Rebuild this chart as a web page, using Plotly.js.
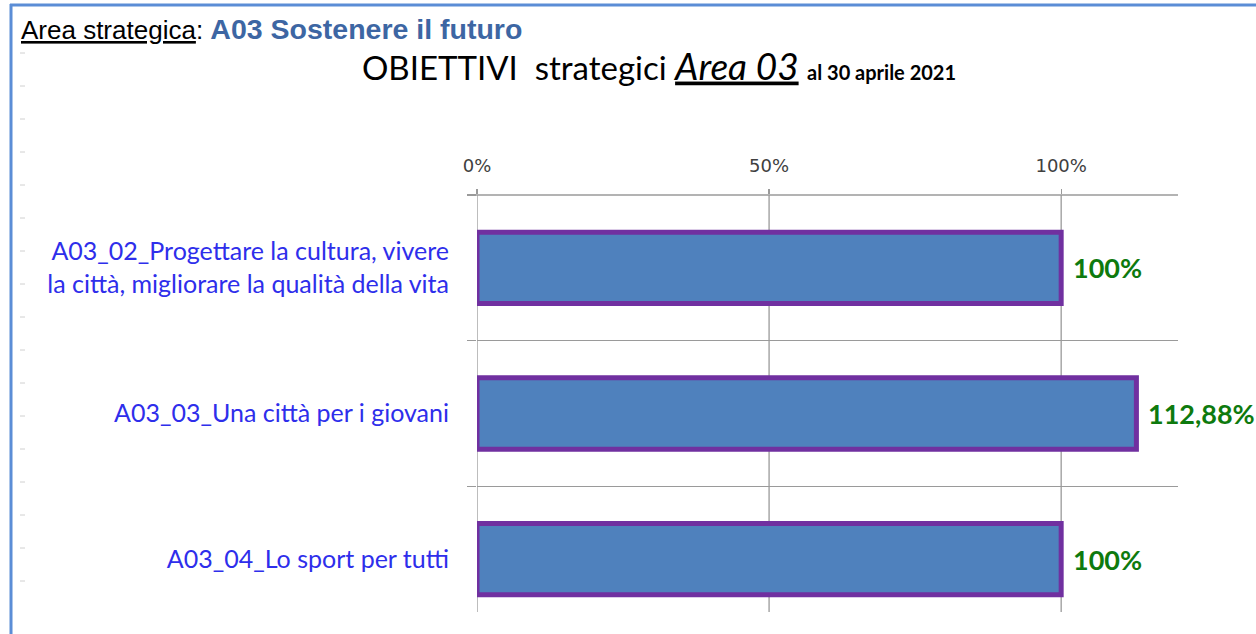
<!DOCTYPE html>
<html>
<head>
<meta charset="utf-8">
<script src="https://cdn.plot.ly/plotly-3.0.1.min.js"></script>
<style>
html,body{margin:0;padding:0;background:#ffffff;}
#chart{width:1256px;height:634px;}
</style>
</head>
<body>
<div id="chart"></div>
<script>
// ---- data ----
const categories = [
  "A03_02_Progettare la cultura, vivere<br>la città, migliorare la qualità della vita",
  "A03_03_Una città per i giovani",
  "A03_04_Lo sport per tutti"
];
const values = [100, 112.88, 100];
const valueLabels = ["100%", "112,88%", "100%"];
const tickValues = [0, 50, 100];
const tickLabels = ["0%", "50%", "100%"];

// ---- layout geometry ----
const W = 1256, H = 634;
const M = {l: 477, r: 78, t: 195, b: 2};
const pw = W - M.l - M.r, ph = H - M.t - M.b;
const px = x => (x - M.l) / pw;          // pixel x -> paper x
const py = y => (H - M.b - y) / ph;      // pixel y -> paper y

const shapes = [];
// frame borders
shapes.push({type:'line', xref:'paper', yref:'paper', x0:px(11), x1:px(11), y0:py(4), y1:py(640), line:{color:'#5B8DD6', width:3}});
shapes.push({type:'line', xref:'paper', yref:'paper', x0:px(10), x1:px(1260), y0:py(5), y1:py(5), line:{color:'#5B8DD6', width:3}});
// small decorative dashes on the left
for (let k = 0; k < 17; k++) {
  const y = 53 + 33 * k;
  shapes.push({type:'line', xref:'paper', yref:'paper', x0:px(20), x1:px(25), y0:py(y), y1:py(y), line:{color:'#D0D0D0', width:1}});
}
// vertical gridlines (end above bottom like the reference)
tickValues.forEach(v => {
  shapes.push({type:'line', xref:'x', yref:'paper', x0:v, x1:v, y0:py(612), y1:1, line:{color:'#9A9A9A', width:1.3}, layer:'below'});
});
// top axis line extended to left
shapes.push({type:'line', xref:'paper', yref:'paper', x0:px(468), x1:1, y0:1, y1:1, line:{color:'#9A9A9A', width:1.3}, layer:'below'});

const annotations = [];
// header
annotations.push({
  xref:'paper', yref:'paper', x:px(19), y:py(29), xanchor:'left', yanchor:'middle', showarrow:false,
  text:"<u>Area strategica</u>: <b><span style='color:#3D66A3;font-size:28.5px'>A03 Sostenere il futuro</span></b>",
  font:{family:'Liberation Sans, Arial, sans-serif', size:26, color:'#000000'}
});
// value labels
values.forEach((v, i) => {
  annotations.push({
    xref:'x', yref:'y', x:v, y:categories[i], xanchor:'left', yanchor:'middle', xshift:10, showarrow:false,
    text:'<b>' + valueLabels[i] + '</b>',
    font:{family:'Lato, sans-serif', size:27, color:'#0E7A0E'}
  });
});

const trace = {
  type:'bar', orientation:'h',
  x: values, y: categories,
  width: 0.49,
  marker:{color:'#4F81BD', line:{color:'#7030A0', width:5}},
  hoverinfo:'skip'
};

const layout = {
  width:W, height:H,
  margin:M,
  paper_bgcolor:'#ffffff', plot_bgcolor:'#ffffff',
  showlegend:false,
  title:{
    text:"OBIETTIVI  strategici <i><u><span style='font-size:37px'>Area 03</span></u></i> <b><span style='font-size:20px'>al 30 aprile 2021</span></b>",
    xref:'container', yref:'container', x:659/W, xanchor:'center', y:1 - 68/H, yanchor:'middle',
    font:{family:'Lato, sans-serif', size:33, color:'#000000'}
  },
  xaxis:{
    side:'top', range:[0, 120], fixedrange:true,
    tickvals:tickValues, ticktext:tickLabels,
    showgrid:false, zeroline:false, showline:false,
    ticks:'outside', ticklen:5, tickcolor:'#9A9A9A', tickwidth:1.3,
    ticklabelstandoff:10,
    tickfont:{family:'DejaVu Sans, sans-serif', size:18, color:'#404040'}
  },
  yaxis:{
    type:'category', autorange:'reversed', fixedrange:true,
    tickson:'boundaries', ticks:'outside', ticklen:9, tickcolor:'#9A9A9A', tickwidth:1.3,
    showgrid:true, gridcolor:'#9A9A9A', gridwidth:1.3,
    showline:false, zeroline:false,
    ticklabelstandoff:27,
    tickfont:{family:'Lato, sans-serif', size:25, color:'#2E2EEB'}
  },
  shapes:shapes,
  annotations:annotations
};

Plotly.newPlot('chart', [trace], layout, {displayModeBar:false, staticPlot:true});
</script>
</body>
</html>
